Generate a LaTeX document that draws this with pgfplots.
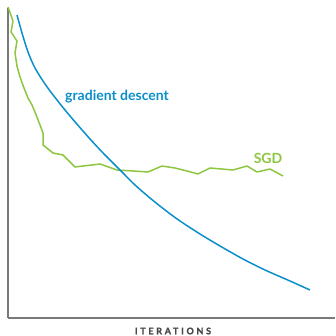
\documentclass[border=0pt]{standalone}
\usepackage{fontspec}
\setmainfont{Lato}
\usepackage{pgfplots}
\pgfplotsset{compat=1.18}
\definecolor{gdblue}{HTML}{0A8FCB}
\definecolor{sgdgreen}{HTML}{8DC63F}
\definecolor{axgray}{HTML}{7A7879}
\definecolor{labgray}{HTML}{4A4849}
\begin{document}
\begin{tikzpicture}
\useasboundingbox (0,0) rectangle (335pt,336pt);
\begin{axis}[
  at={(8pt,18pt)}, anchor=south west,
  scale only axis, width=327pt, height=310pt,
  xmin=8, xmax=335, ymin=18, ymax=328,
  axis x line=bottom, axis y line=left,
  axis line style={axgray, line width=1.4pt, -},
  xtick=\empty, ytick=\empty,
  clip=false,
]
\addplot[sgdgreen, line width=1.5pt, line join=round] coordinates {
(8,329)(13,315)(11,304)(17,295)(15,283)(17,270)(20,259)(24,248)(28,238)(32,231)
(35,224)(40,211)(43,203)(43,191)(53,183)(63,181)(75,169)(100,172)(117,166)(133,165)
(148,164)(162,170)(175,168)(187,165)(198,162)(210,168)(233,166)(247,170)(257,164)
(270,167)(283,160)};
\addplot[gdblue, line width=1.5pt, smooth] coordinates {
(17,321)(22,303)(28,284)(35,268)(45,252)(57,236)(70,220)(90,197)(105,181)(120,166)
(135,151)(150,138)(165,126)(180,115)(200,102)(220,90)(243,77)(265,66)(290,55)(310,46)};
\node[anchor=west, text=gdblue, font=\fontsize{14}{16}\selectfont\bfseries, inner sep=0pt] at (axis cs:65,239) {gradient descent};
\node[anchor=center, text=sgdgreen, font=\fontsize{14}{16}\selectfont\bfseries, inner sep=0pt] at (axis cs:268,178) {SGD};
\end{axis}
\node[anchor=center, text=labgray, font=\fontsize{9}{10}\selectfont\bfseries\addfontfeatures{LetterSpace=30,FakeBold=1.5}, inner sep=0pt] at (173pt,5pt) {ITERATIONS};
\end{tikzpicture}
\end{document}
